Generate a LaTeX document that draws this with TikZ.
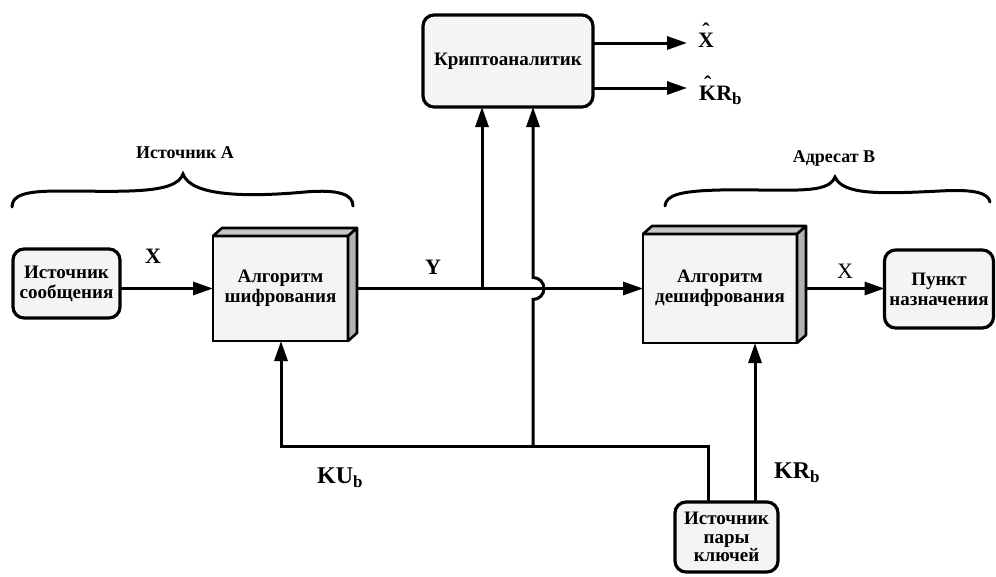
\documentclass[tikz,border=0pt]{standalone}
\usepackage{fontspec}
\setmainfont{Liberation Serif}
\usetikzlibrary{arrows.meta,calc}
\newcommand\lowsub[1]{\raisebox{-4pt}{\fontsize{17}{17}\selectfont #1}}
% letter with a caret set well above it
\newcommand\capletter[1]{{\ooalign{#1\cr\hidewidth\raisebox{9pt}{ˆ}\hidewidth\cr}}}
\begin{document}
\begin{tikzpicture}[x=1pt,y=1pt,
  conn/.style={line width=3pt},
  arr/.style={conn,-{Triangle[length=20pt,width=13pt]}},
  nodefont/.style={font=\fontsize{19}{20}\selectfont\bfseries},
  box/.style={draw,line width=3.2pt,rounded corners=11pt,fill=gray!9,
    nodefont,align=center,inner sep=0pt,outer sep=0pt},
  cube/.style={draw,line width=2.6pt,fill=gray!9,nodefont,align=center,
    inner sep=0pt,outer sep=0pt},
  topface/.style={draw,line width=2.6pt,fill=gray!45,line join=round},
  sideface/.style={draw,line width=2.6pt,fill=gray!60,line join=round},
  lbl/.style={font=\fontsize{22}{22}\selectfont\bfseries,inner sep=0pt},
  lblreg/.style={font=\fontsize{22}{22}\selectfont,inner sep=0pt},
  lblk/.style={font=\fontsize{24}{24}\selectfont\bfseries,inner sep=0pt},
  hdr/.style={font=\fontsize{18}{18}\selectfont\bfseries,inner sep=0pt},
  brace/.style={line width=3pt,line cap=round}]
\path[use as bounding box] (0,0) rectangle (996,-576);

% blocks
\node[box,minimum width=107pt,minimum height=69pt] (src) at (66.5,-283.5) {Источник\\сообщения};
\node[box,minimum width=170pt,minimum height=92pt] (crypt) at (508,-61) {Криптоаналитик};
\node[box,minimum width=109pt,minimum height=78pt] (dest) at (939,-289) {Пункт\\назначения};
\node[box,minimum width=103pt,minimum height=70pt,font=\fontsize{19}{18.5}\selectfont\bfseries] (keys) at (726.5,-537) {Источник\\пары\\ключей};

\node[cube,minimum width=135pt,minimum height=105pt] (enc) at (280.5,-288.5) {Алгоритм\\шифрования};
\node[cube,minimum width=154pt,minimum height=109pt] (dec) at (720,-288.5) {Алгоритм\\дешифрования};

% raised faces of the two algorithm blocks
\foreach \b in {enc,dec}{
  \path[topface] (\b.north west) -- ++(9,8) -- ($(\b.north east)+(9,8)$) -- (\b.north east) -- cycle;
  \path[sideface] (\b.north east) -- ++(9,8) -- ($(\b.south east)+(9,8)$) -- (\b.south east) -- cycle;
}

% helper points
\coordinate (tapY) at (482,-288.5);
\coordinate (tapK) at (533,-446);
\coordinate (kl) at (281,-446);
\coordinate (kr) at (708,-446);
\coordinate (krb) at (755,-420);
\coordinate (ox) at (687,-43);
\coordinate (ok) at (687,-88);

% data path
\draw[arr] (src.east |- enc.west) -- (enc.west);
\draw[arr] ($(enc.east)+(9,0)$) -- (dec.west);
\draw[arr] ($(dec.east)+(9,0)$) -- (dest.west |- dec.east);
\draw[arr] (tapY) -- (tapY |- crypt.south);

% keys
\draw[arr] (keys.north -| kr) -- (kr) -- (kl) -- (kl |- enc.south);
\draw[arr] (keys.north -| krb) -- (krb |- dec.south);
\draw[arr] (tapK) -- ($(tapK |- enc.east)+(0,-11)$) arc[start angle=-90,end angle=90,radius=11] -- (tapK |- crypt.south);

% analyst outputs
\draw[arr] (crypt.east |- ox) -- (ox);
\draw[arr] (crypt.east |- ok) -- (ok);
\node[lbl,anchor=base west] (xh) at (698,-47) {\capletter{X}};
\node[lbl,anchor=base west] (kh) at (699,-100) {\capletter{K}R\lowsub{b}};

% signal labels
\node[lbl] (lx) at (153,-256) {X};
\node[lbl] (ly) at (433,-267) {Y};
\node[lblreg] (lx2) at (845,-271) {X};
\node[lblk,anchor=base west] (lku) at (317,-483) {KU\lowsub{b}};
\node[lblk,anchor=base west] (lkr) at (774,-478) {KR\lowsub{b}};

% braces
\draw[brace] (12,-207) .. controls (12,-195) and (25,-191) .. (60,-191)
  .. controls (120,-191) and (176,-195) .. (183,-174)
  .. controls (191,-197) and (250,-197) .. (305,-192)
  .. controls (340,-189) and (353,-195) .. (353,-206);
\node[hdr] (ha) at (185,-153) {Источник А};

\draw[brace] (665,-206) .. controls (666,-195) and (680,-191) .. (720,-190)
  .. controls (790,-189) and (828,-195) .. (835,-177)
  .. controls (843,-195) and (880,-194) .. (940,-191)
  .. controls (975,-189) and (988,-193) .. (990,-202);
\node[hdr] (hb) at (834,-158) {Адресат В};
\end{tikzpicture}
\end{document}
